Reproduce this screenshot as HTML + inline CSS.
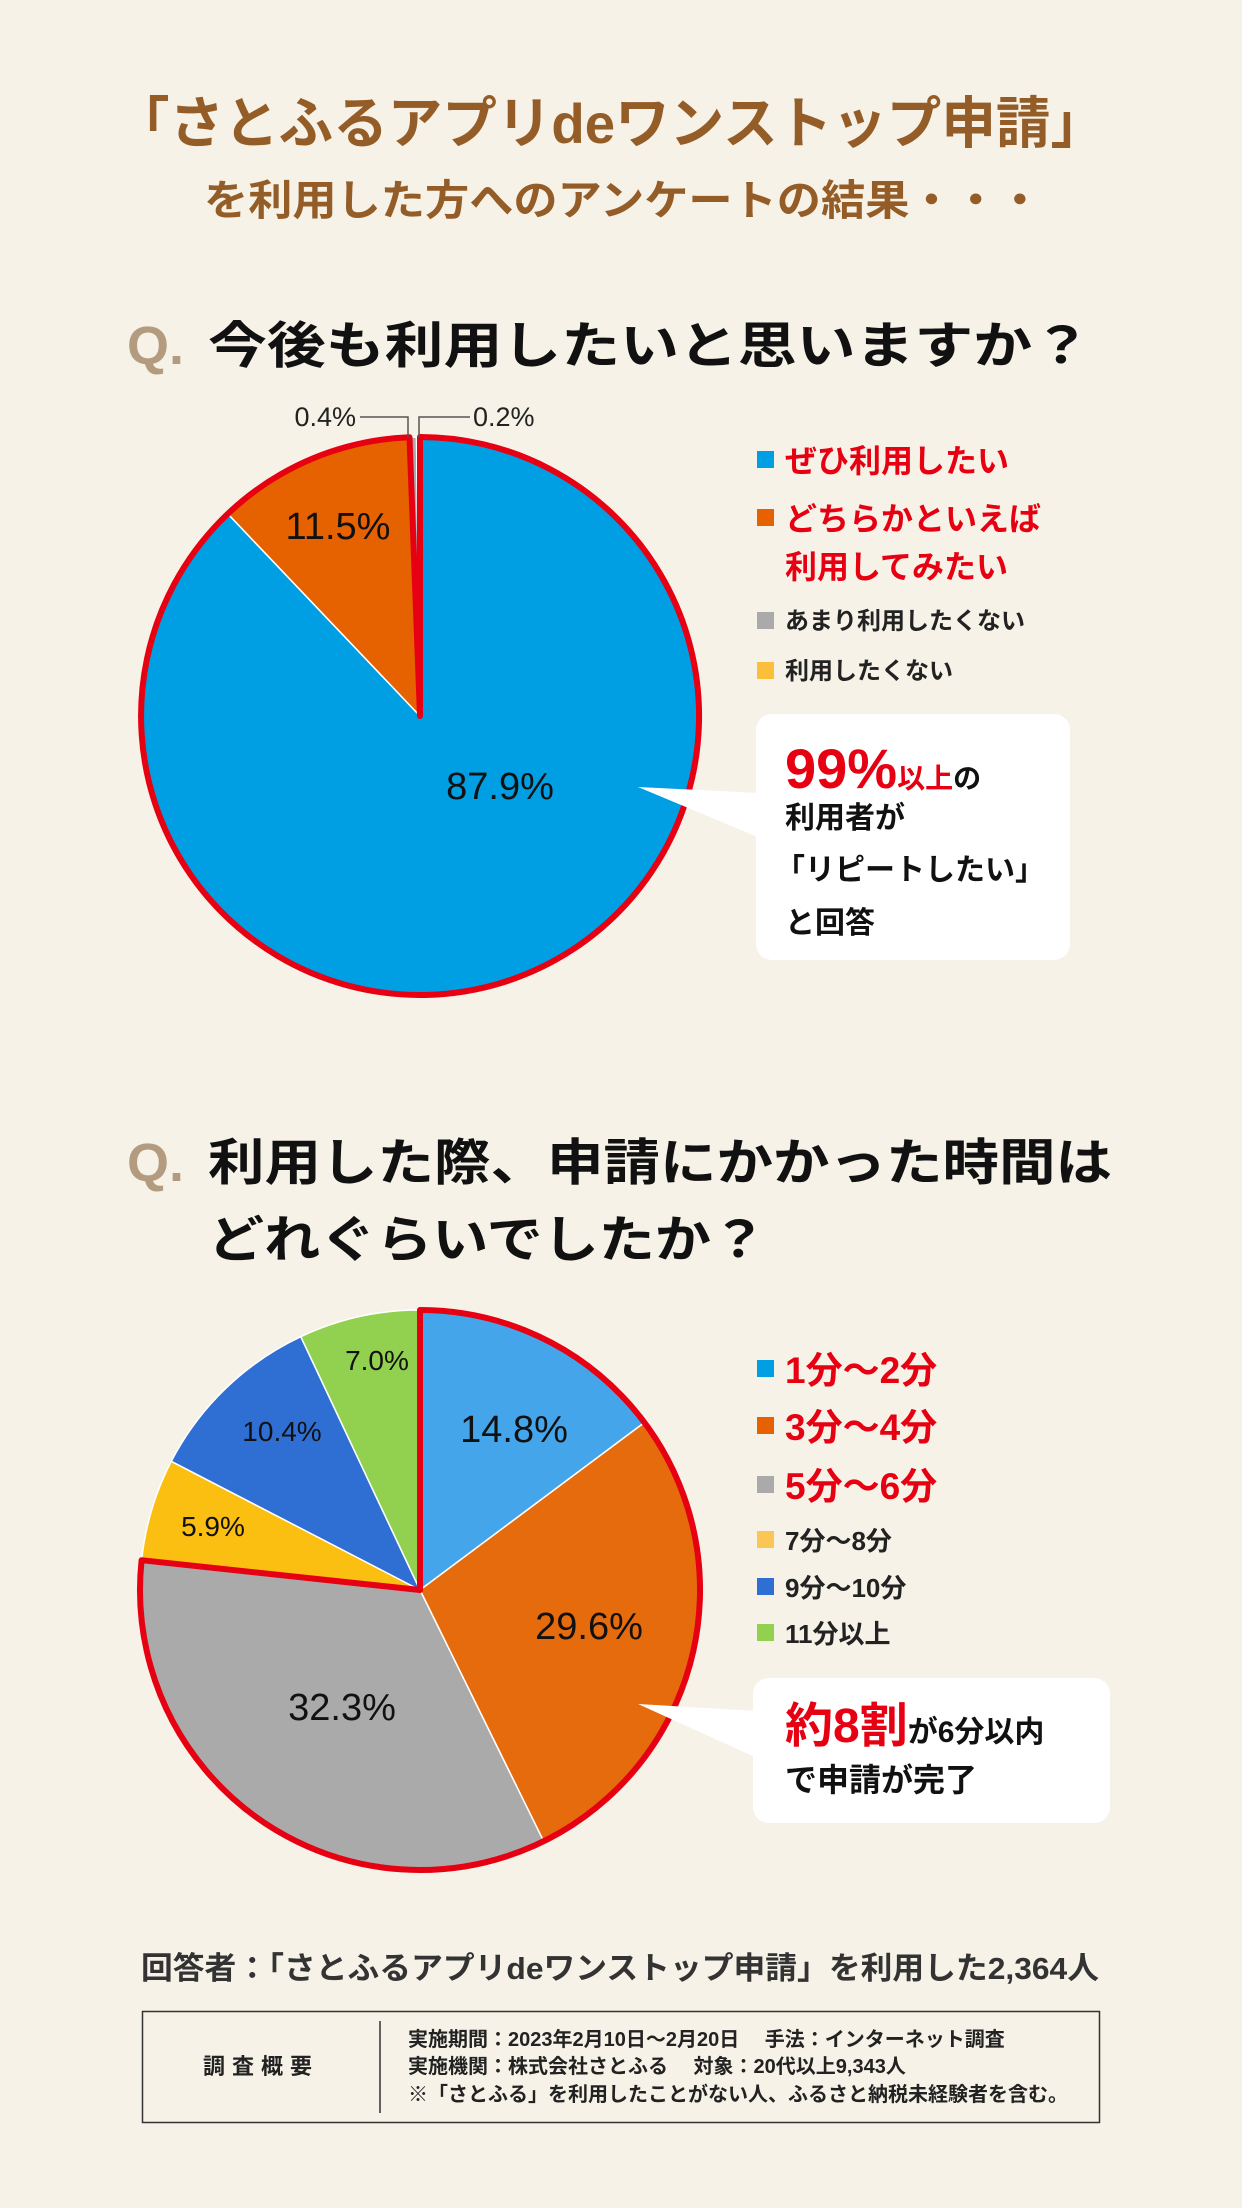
<!DOCTYPE html>
<html><head><meta charset="utf-8"><style>
html,body{margin:0;padding:0;background:#f6f2e7;}
svg{display:block;}
text{font-family:"Liberation Sans","Noto Sans CJK JP",sans-serif;font-weight:bold;}
text.n{font-weight:normal;}
</style></head><body>
<svg width="1242" height="2208" viewBox="0 0 1242 2208" xmlns="http://www.w3.org/2000/svg">
<rect width="1242" height="2208" fill="#f6f2e7"/>
<text x="115" y="143" font-size="56" fill="#945d28" textLength="990" lengthAdjust="spacingAndGlyphs">「さとふるアプリdeワンストップ申請」</text>
<text x="204" y="215" font-size="42" fill="#945d28" textLength="838" lengthAdjust="spacingAndGlyphs">を利用した方へのアンケートの結果・・・</text>
<text x="127" y="364" font-size="54" fill="#b39b80">Q.</text>
<text x="208" y="363" font-size="50" fill="#111" textLength="883" lengthAdjust="spacingAndGlyphs">今後も利用したいと思いますか？</text>
<g stroke="#fff" stroke-width="1.5">
<path d="M420,716 L420,437 A279,279 0 1 1 227.8,513.8 Z" fill="#009ee3"/>
<path d="M420,716 L227.8,513.8 A279,279 0 0 1 409.5,437.2 Z" fill="#e66100"/>
<path d="M420,716 L409.5,437.2 A279,279 0 0 1 416.5,437 Z" fill="#aaaaaa"/>
<path d="M420,716 L416.5,437 A279,279 0 0 1 420,437 Z" fill="#fbbf3c"/>
</g>
<path d="M420,716 L420,437 A279,279 0 1 1 409.5,437.2 Z" fill="none" stroke="#e60012" stroke-width="6" stroke-linejoin="round"/>
<polyline points="360,417 408,417 408,437" fill="none" stroke="#555" stroke-width="1.5"/>
<polyline points="470,417 419,417 419,437" fill="none" stroke="#555" stroke-width="1.5"/>
<text class="n" x="356" y="426" font-size="27" fill="#222" text-anchor="end">0.4%</text>
<text class="n" x="473" y="426" font-size="27" fill="#222">0.2%</text>
<text class="n" x="338" y="539" font-size="38" fill="#111" text-anchor="middle">11.5%</text>
<text class="n" x="500" y="799" font-size="38" fill="#111" text-anchor="middle">87.9%</text>
<rect x="757" y="451" width="17" height="17" fill="#009ee3"/>
<text x="785" y="472" font-size="32" fill="#e60012">ぜひ利用したい</text>
<rect x="757" y="509" width="17" height="17" fill="#e66100"/>
<text x="785" y="530" font-size="32" fill="#e60012">どちらかといえば</text>
<text x="785" y="578" font-size="32" fill="#e60012">利用してみたい</text>
<rect x="757" y="612" width="17" height="17" fill="#aaaaaa"/>
<text x="785" y="629" font-size="24" fill="#222">あまり利用したくない</text>
<rect x="757" y="662" width="17" height="17" fill="#fbbf3c"/>
<text x="785" y="679" font-size="24" fill="#222">利用したくない</text>
<rect x="756" y="714" width="314" height="246" rx="16" fill="#fff"/>
<polygon points="638,787 760,793 760,838" fill="#fff"/>
<text x="785" y="788" font-size="56" fill="#e60012">99%<tspan font-size="28">以上</tspan><tspan font-size="28" fill="#111">の</tspan></text>
<text x="785" y="828" font-size="30" fill="#111">利用者が</text>
<text x="775" y="880" font-size="30" fill="#111">「リピートしたい」</text>
<text x="785" y="933" font-size="30" fill="#111">と回答</text>
<text x="127" y="1181" font-size="54" fill="#b39b80">Q.</text>
<text x="208" y="1180" font-size="50" fill="#111" textLength="904" lengthAdjust="spacingAndGlyphs">利用した際、申請にかかった時間は</text>
<text x="208" y="1257" font-size="50" fill="#111" textLength="559" lengthAdjust="spacingAndGlyphs">どれぐらいでしたか？</text>
<g stroke="#fff" stroke-width="1.5">
<path d="M420,1590 L420,1310 A280,280 0 0 1 644.4,1422.6 Z" fill="#45a5ea"/>
<path d="M420,1590 L644.4,1422.6 A280,280 0 0 1 543.6,1841.2 Z" fill="#e56b0d"/>
<path d="M420,1590 L543.6,1841.2 A280,280 0 0 1 141.6,1560.2 Z" fill="#aaaaaa"/>
<path d="M420,1590 L141.6,1560.2 A280,280 0 0 1 171.3,1461.3 Z" fill="#fbbf11"/>
<path d="M420,1590 L171.3,1461.3 A280,280 0 0 1 300.8,1336.7 Z" fill="#2f6fd4"/>
<path d="M420,1590 L300.8,1336.7 A280,280 0 0 1 420,1310 Z" fill="#92d050"/>
</g>
<path d="M420,1590 L420,1310 A280,280 0 1 1 141.6,1560.2 Z" fill="none" stroke="#e60012" stroke-width="6" stroke-linejoin="round"/>
<g fill="#111" text-anchor="middle">
<text class="n" x="514" y="1442" font-size="38">14.8%</text>
<text class="n" x="589" y="1639" font-size="38">29.6%</text>
<text class="n" x="342" y="1720" font-size="38">32.3%</text>
<text class="n" x="213" y="1536" font-size="28">5.9%</text>
<text class="n" x="282" y="1441" font-size="28">10.4%</text>
<text class="n" x="377" y="1370" font-size="28">7.0%</text>
</g>
<rect x="757" y="1360" width="17" height="17" fill="#009ee3"/>
<text x="785" y="1383" font-size="37" fill="#e60012">1分～2分</text>
<rect x="757" y="1417" width="17" height="17" fill="#e66100"/>
<text x="785" y="1440" font-size="37" fill="#e60012">3分～4分</text>
<rect x="757" y="1476" width="17" height="17" fill="#aaaaaa"/>
<text x="785" y="1499" font-size="37" fill="#e60012">5分～6分</text>
<rect x="757" y="1531" width="17" height="17" fill="#fcc654"/>
<text x="785" y="1550" font-size="26" fill="#222">7分～8分</text>
<rect x="757" y="1578" width="17" height="17" fill="#2f6fd4"/>
<text x="785" y="1597" font-size="26" fill="#222">9分～10分</text>
<rect x="757" y="1624" width="17" height="17" fill="#92d050"/>
<text x="785" y="1643" font-size="26" fill="#222">11分以上</text>
<rect x="753" y="1678" width="357" height="145" rx="16" fill="#fff"/>
<polygon points="638,1704 757,1711 757,1758" fill="#fff"/>
<text x="785" y="1742" font-size="48" fill="#e60012">約8割<tspan font-size="30" fill="#111">が6分以内</tspan></text>
<text x="785" y="1791" font-size="32" fill="#111">で申請が完了</text>
<text x="141" y="1979" font-size="31" fill="#333" textLength="958" lengthAdjust="spacingAndGlyphs">回答者：「さとふるアプリdeワンストップ申請」を利用した2,364人</text>
<rect x="142.5" y="2011.5" width="957" height="111" fill="none" stroke="#333" stroke-width="1.5"/>
<line x1="380" y1="2021" x2="380" y2="2113" stroke="#333" stroke-width="1.5"/>
<text x="261" y="2074" font-size="22" fill="#222" text-anchor="middle" letter-spacing="7">調査概要</text>
<g font-size="20" fill="#222">
<text x="408" y="2046">実施期間：2023年2月10日～2月20日　 手法：インターネット調査</text>
<text x="408" y="2073">実施機関：株式会社さとふる　 対象：20代以上9,343人</text>
<text x="408" y="2101">※「さとふる」を利用したことがない人、ふるさと納税未経験者を含む。</text>
</g>
</svg>
</body></html>
